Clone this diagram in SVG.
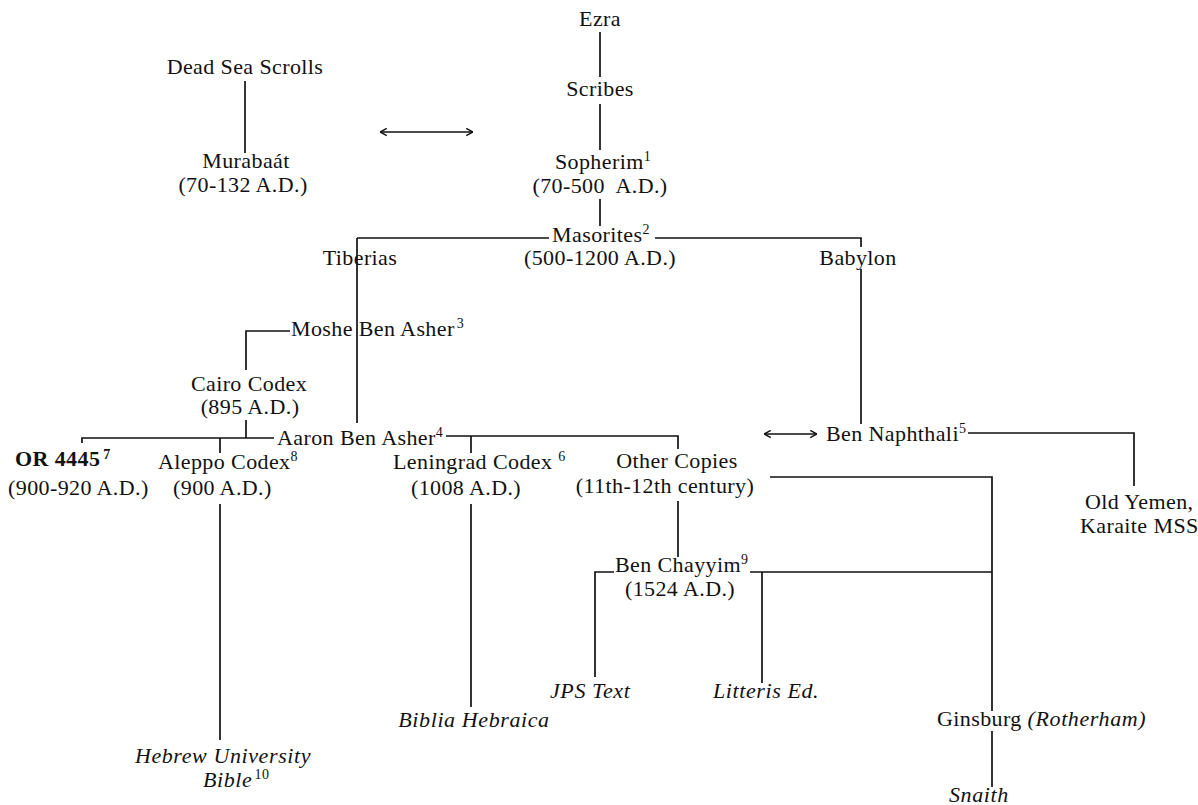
<svg xmlns="http://www.w3.org/2000/svg" width="1198" height="805" viewBox="0 0 1198 805">
<style>
text { font-family: "Liberation Serif", "Times New Roman", serif; font-size: 22px; fill: #111; letter-spacing: 0.4px; }
.m { text-anchor: middle; }
.i { font-style: italic; letter-spacing: 0.6px; }
.b { font-weight: bold; }
.sup { font-size: 14px; font-style: normal; }
#connectors path { stroke: #111; stroke-width: 1.7; fill: none; }
</style>
<defs>
<marker id="ah" viewBox="0 0 10 10" refX="9.5" refY="5" markerWidth="9" markerHeight="9" markerUnits="userSpaceOnUse" orient="auto-start-reverse">
<path d="M2,1 L9.5,5 L2,9" fill="none" stroke="#111" stroke-width="1.6"/>
</marker>
</defs>
<rect width="1198" height="805" fill="#fff"/>
<g id="connectors">
<path d="M600,32 V77"/>
<path d="M600,104 V150"/>
<path d="M600,199 V226"/>
<path d="M357,238 H549"/>
<path d="M655,238 H861 V247"/>
<path d="M357,238 V423"/>
<path d="M861,269 V424"/>
<path d="M245,81 V153"/>
<path d="M380,132 H473" marker-start="url(#ah)" marker-end="url(#ah)"/>
<path d="M290,331 H246 V370"/>
<path d="M246,420 V438"/>
<path d="M82,443 V438 H274"/>
<path d="M220,438 V453"/>
<path d="M446,436 H678 V449"/>
<path d="M471,436 V453"/>
<path d="M220,504 V740"/>
<path d="M471,504 V707"/>
<path d="M678,501 V557"/>
<path d="M614,572 H595 V677"/>
<path d="M750,572 H992"/>
<path d="M762,572 V683"/>
<path d="M770,477 H992 V711"/>
<path d="M992,731 V787"/>
<path d="M764,434 H817" marker-start="url(#ah)" marker-end="url(#ah)"/>
<path d="M968,433 H1134 V486"/>
</g>
<g id="ezra"><text class="m" x="600" y="26">Ezra</text></g>
<g id="scribes"><text class="m" x="600" y="96">Scribes</text></g>
<g id="sopherim"><text class="m" x="603" y="169">Sopherim<tspan class="sup" dy="-8">1</tspan></text>
<text class="m" x="600" y="193" xml:space="preserve">(70-500  A.D.)</text></g>
<g id="deadsea"><text class="m" x="245" y="74">Dead Sea Scrolls</text></g>
<g id="murabaat"><text class="m" x="246" y="168">Murabaát</text>
<text class="m" x="243" y="192">(70-132 A.D.)</text></g>
<g id="masorites"><text class="m" x="601" y="242">Masorites<tspan class="sup" dy="-8">2</tspan></text>
<text class="m" x="600" y="265">(500-1200 A.D.)</text></g>
<g id="tiberias"><text class="m" x="360" y="265">Tiberias</text></g>
<g id="babylon"><text class="m" x="858" y="265">Babylon</text></g>
<g id="moshe"><text x="291" y="336">Moshe Ben Asher<tspan class="sup" dx="2" dy="-8">3</tspan></text></g>
<g id="cairo"><text class="m" x="249" y="391">Cairo Codex</text>
<text class="m" x="250" y="414">(895 A.D.)</text></g>
<g id="aaron"><text x="277" y="445">Aaron Ben Asher<tspan class="sup" dy="-8">4</tspan></text></g>
<g id="or4445"><text class="b" x="15" y="466">OR 4445<tspan class="sup" dx="3" dy="-7">7</tspan></text>
<text x="8" y="495">(900-920 A.D.)</text></g>
<g id="aleppo"><text x="158" y="469">Aleppo Codex<tspan class="sup" dy="-8">8</tspan></text>
<text x="173" y="495">(900 A.D.)</text></g>
<g id="leningrad"><text x="393" y="469">Leningrad Codex <tspan class="sup" dy="-8">6</tspan></text>
<text class="m" x="466" y="495">(1008 A.D.)</text></g>
<g id="othercopies"><text class="m" x="677" y="468">Other Copies</text>
<text class="m" x="665" y="493">(11th-12th century)</text></g>
<g id="naphthali"><text x="826" y="441">Ben Naphthali<tspan class="sup" dy="-8">5</tspan></text></g>
<g id="yemen"><text x="1085" y="509">Old Yemen,</text>
<text x="1080" y="533">Karaite MSS</text></g>
<g id="chayyim"><text x="615" y="572">Ben Chayyim<tspan class="sup" dy="-8">9</tspan></text>
<text class="m" x="680" y="596">(1524 A.D.)</text></g>
<g id="jps"><text class="i" x="550" y="698">JPS Text</text></g>
<g id="litteris"><text class="i" x="713" y="698">Litteris Ed.</text></g>
<g id="biblia"><text class="i m" x="474" y="727">Biblia Hebraica</text></g>
<g id="hebrewuniv"><text class="i m" x="223" y="763">Hebrew University</text>
<text class="i" x="203" y="787">Bible<tspan class="sup" dx="2" dy="-8">10</tspan></text></g>
<g id="ginsburg"><text x="937" y="726">Ginsburg <tspan class="i">(Rotherham)</tspan></text></g>
<g id="snaith"><text class="i" x="949" y="802">Snaith</text></g>
</svg>
